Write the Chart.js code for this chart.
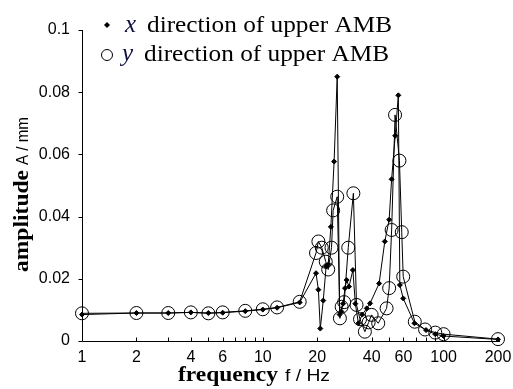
<!DOCTYPE html>
<html><head><meta charset="utf-8">
<script src="https://cdn.jsdelivr.net/npm/chart.js@4.4.1/dist/chart.umd.min.js"></script>
<style>html,body{margin:0;padding:0;background:#fff;}canvas{display:block;}</style>
</head><body>
<canvas id="c" width="513" height="389"></canvas>
<script>
// x direction of upper AMB (small filled diamonds)
const xFreq = [1,2,3,4,5,6,8,10,12,16,19.7,20.3,20.8,21.6,22.4,23.0,23.8,24.8,25.8,26.6,27.2,27.8,28.5,29.1,30.0,31.5,32.5,33.8,35.5,37.6,39.2,44,47.3,50,51.6,54,56.2,57.3,59.8,69,80,90,100,200];
const xAmp  = [0.0085,0.009,0.009,0.0092,0.009,0.0091,0.0096,0.0101,0.0107,0.0124,0.0218,0.0165,0.004,0.013,0.024,0.0245,0.0367,0.0577,0.085,0.0085,0.0095,0.012,0.017,0.0196,0.0175,0.0228,0.012,0.0057,0.0085,0.0105,0.0121,0.0185,0.032,0.039,0.052,0.066,0.079,0.018,0.0137,0.0057,0.0035,0.0022,0.0016,0.0005];
// y direction of upper AMB (open circles)
const yFreq = [1,2,3,4,5,6,8,10,12,16,19.7,20.3,21.2,22.3,23.0,24.0,24.5,25.8,26.7,27.3,28.2,29.7,31.7,33.0,34.5,36.7,38.5,40,43.5,48.4,50,51.6,53.9,57,58.7,59.8,69.3,79,90,100,200];
const yAmp  = [0.0089,0.009,0.009,0.0092,0.0089,0.0092,0.0097,0.0102,0.0108,0.0126,0.0283,0.032,0.030,0.0255,0.023,0.030,0.042,0.0464,0.0073,0.011,0.0125,0.030,0.0475,0.0116,0.007,0.003,0.006,0.0084,0.0057,0.0105,0.017,0.0357,0.0727,0.058,0.035,0.0207,0.0062,0.0037,0.0027,0.0022,0.0006];

const xTickLabels = [1,2,4,6,10,20,40,60,100,200];
const xMinorTicks = [3,5,7,8,9,30,50,70,80,90];
const yTickValues = [0,0.02,0.04,0.06,0.08,0.1];
const legendItalic = ['x','y'];
const legendText = ['direction of upper AMB','direction of upper AMB'];
const xTitleMain = 'frequency', xTitleUnit = 'f / Hz';
const yTitleMain = 'amplitude', yTitleUnit = 'A / mm';

const serif = '"Liberation Serif","Times New Roman",serif';
const sans = '"Liberation Sans",Arial,sans-serif';

function fitText(ctx, text, x, y, font, w){
  ctx.font = font;
  const m = ctx.measureText(text).width;
  ctx.save();
  ctx.translate(x, y);
  ctx.scale(w / m, 1);
  ctx.fillText(text, 0, 0);
  ctx.restore();
}

const decor = {
  id:'decor',
  afterDraw(chart){
    const ctx = chart.ctx, xs = chart.scales.x, ys = chart.scales.y;
    const a = chart.chartArea;
    ctx.save();
    ctx.strokeStyle = '#000'; ctx.lineWidth = 1;
    const y0 = Math.round(ys.getPixelForValue(0)) + 0.5;
    const xl = Math.round(xs.getPixelForValue(1)) + 0.5;
    ctx.beginPath();
    ctx.moveTo(xl, Math.round(ys.getPixelForValue(0.1))); ctx.lineTo(xl, y0);
    ctx.lineTo(a.right + 2, y0);
    yTickValues.forEach(v=>{ const p = Math.round(ys.getPixelForValue(v))+0.5; ctx.moveTo(xl-4,p); ctx.lineTo(xl,p); });
    xTickLabels.concat(xMinorTicks).forEach(v=>{ if(v===1) return; const p = Math.round(xs.getPixelForValue(v))+0.5; ctx.moveTo(p,y0); ctx.lineTo(p,y0-4); });
    ctx.stroke();

    ctx.fillStyle = '#000';
    ctx.textBaseline = 'alphabetic';
    fitText(ctx, xTitleMain, 178, 381, 'bold 22px ' + serif, 100);
    fitText(ctx, xTitleUnit, 285, 381, '16px ' + sans, 45);
    ctx.save();
    ctx.translate(28, 272);
    ctx.rotate(-Math.PI/2);
    fitText(ctx, yTitleMain, 0, 0, 'bold 22px ' + serif, 102);
    fitText(ctx, yTitleUnit, 107, 0, '16px ' + sans, 48);
    ctx.restore();

    const rows = [{y:25, base:32, ix:125, tx:147}, {y:55, base:61, ix:122, tx:144}];
    rows.forEach((r,i)=>{
      ctx.fillStyle = '#000';
      ctx.beginPath();
      if(i===0){
        ctx.moveTo(107, r.y-3); ctx.lineTo(110, r.y); ctx.lineTo(107, r.y+3); ctx.lineTo(104, r.y); ctx.closePath();
        ctx.fill();
      } else {
        ctx.arc(107, r.y, 5.5, 0, Math.PI*2); ctx.stroke();
      }
      ctx.fillStyle = '#101040';
      ctx.font = 'italic 25px ' + serif;
      ctx.fillText(legendItalic[i], r.ix, r.base);
      ctx.fillStyle = '#000';
      fitText(ctx, legendText[i], r.tx, r.base, '24px ' + serif, 245);
    });
    ctx.restore();
  }
};

new Chart(document.getElementById('c'), {
  type:'scatter',
  data:{datasets:[
    {label:'x direction of upper AMB', data:xFreq.map((f,i)=>({x:f,y:xAmp[i]})), showLine:true,
     borderColor:'#000', borderWidth:1, pointStyle:'rectRot', pointRadius:2.5, pointBackgroundColor:'#000',
     pointBorderColor:'#000', pointBorderWidth:1, clip:false, order:2},
    {label:'y direction of upper AMB', data:yFreq.map((f,i)=>({x:f,y:yAmp[i]})), showLine:true,
     borderColor:'#000', borderWidth:1, pointStyle:'circle', pointRadius:6.5, pointBackgroundColor:'rgba(0,0,0,0)',
     pointBorderColor:'#000', pointBorderWidth:1, clip:false, order:1}
  ]},
  options:{
    responsive:false, animation:false, devicePixelRatio:1,
    layout:{padding:{top:30,right:15,left:0,bottom:0}},
    plugins:{legend:{display:false}, tooltip:{enabled:false}},
    scales:{
      x:{type:'logarithmic', min:1, max:200,
        grid:{display:false, drawTicks:false}, border:{display:false},
        afterBuildTicks:s=>{ s.ticks = xTickLabels.map(v=>({value:v})); },
        ticks:{callback:v=>String(v), font:{family:sans, size:16}, color:'#000', padding:7, autoSkip:false, maxRotation:0, minRotation:0},
        afterFit:s=>{ s.height = 48; s.paddingLeft = 0; s.paddingRight = 0; }
      },
      y:{type:'linear', min:0, max:0.1,
        grid:{display:false, drawTicks:false}, border:{display:false},
        afterBuildTicks:s=>{ s.ticks = yTickValues.map(v=>({value:v})); },
        ticks:{callback:v=>String(+(+v).toFixed(2)), font:{family:sans, size:16}, color:'#000', padding:12},
        afterFit:s=>{ s.width = 82; s.paddingTop = 0; s.paddingBottom = 0; }
      }
    }
  },
  plugins:[decor]
});
</script>
</body></html>
